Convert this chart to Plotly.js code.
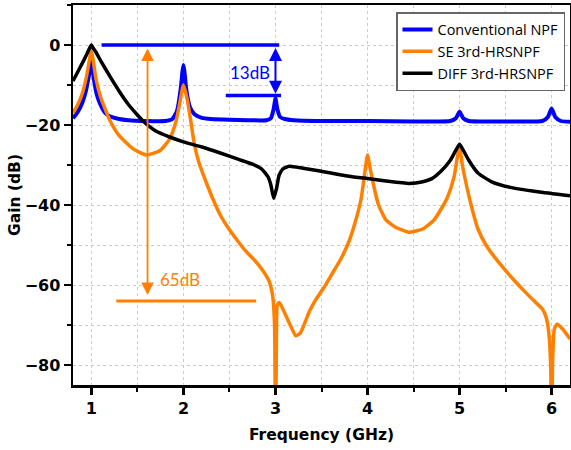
<!DOCTYPE html>
<html>
<head>
<meta charset="utf-8">
<script src="https://cdn.plot.ly/plotly-3.0.1.min.js"></script>
<style>html,body{margin:0;padding:0;background:#fff;}#chart{width:571px;height:450px;}</style>
</head>
<body>
<div id="chart"></div>
<script>
// Conventional NPF
const freqConv = [0.8, 0.85, 0.9, 0.94, 0.97, 0.99, 1.0, 1.01, 1.03, 1.06, 1.1, 1.15, 1.2, 1.3, 1.4, 1.6, 1.8, 1.88, 1.93, 1.97, 1.99, 2.0, 2.01, 2.03, 2.07, 2.12, 2.2, 2.3, 2.5, 2.7, 2.9, 2.95, 2.98, 3.0, 3.02, 3.05, 3.1, 3.2, 3.5, 4.0, 4.5, 4.9, 4.96, 5.0, 5.04, 5.1, 5.5, 5.9, 5.96, 6.0, 6.04, 6.1, 6.2];
const gainConv = [-18.3, -16.8, -14.5, -11.5, -8, -5.5, -4, -5.5, -9, -12.5, -15, -17, -17.8, -18.5, -18.8, -19, -19, -18.5, -16.5, -11, -6.5, -5, -6.5, -11, -15.5, -17.3, -18.2, -18.5, -18.7, -18.8, -18.8, -18.3, -16, -13.4, -16, -18, -18.5, -18.8, -19, -19, -19.1, -19, -18.3, -16.7, -18.3, -19, -19.1, -19, -18, -15.9, -18, -19, -19.2];

// SE 3rd-HRSNPF
const freqSE = [0.8, 0.85, 0.9, 0.95, 0.98, 1.0, 1.02, 1.05, 1.1, 1.2, 1.3, 1.45, 1.6, 1.75, 1.85, 1.92, 1.96, 2.0, 2.04, 2.08, 2.12, 2.17, 2.25, 2.32, 2.4, 2.5, 2.6, 2.68, 2.78, 2.86, 2.93, 2.97, 2.99, 3.0, 3.01, 3.02, 3.04, 3.07, 3.11, 3.16, 3.22, 3.27, 3.37, 3.44, 3.53, 3.62, 3.71, 3.8, 3.87, 3.93, 3.97, 4.0, 4.03, 4.07, 4.12, 4.2, 4.3, 4.45, 4.6, 4.72, 4.8, 4.87, 4.94, 4.98, 5.0, 5.03, 5.07, 5.12, 5.2, 5.3, 5.46, 5.6, 5.72, 5.82, 5.9, 5.94, 5.97, 5.99, 6.0, 6.01, 6.03, 6.06, 6.12, 6.2];
const gainSE = [-17, -15, -12.2, -7.5, -3.5, -1.5, -4, -8.5, -13, -18.8, -22.6, -25.9, -27.5, -26.3, -23.5, -19, -14.5, -10, -13.5, -19, -25, -29.5, -34.5, -38.5, -42.5, -46.2, -49.3, -51.6, -54, -56.3, -59, -62.8, -70, -100, -75, -65, -64.4, -65.5, -67.5, -70, -72.7, -72, -66.5, -63.6, -60.5, -57, -53.5, -49, -44, -38.5, -32, -27.5, -31, -35.5, -40, -43.7, -45.5, -46.8, -46, -43.8, -41, -38, -33, -27.5, -25.5, -30, -34.5, -39.5, -46, -50.5, -55.3, -59, -61.9, -64.2, -66, -68, -72, -80, -100, -80, -71, -69.8, -71, -73.5];

// DIFF 3rd-HRSNPF
const freqDiff = [0.8, 0.85, 0.9, 0.95, 0.98, 1.0, 1.02, 1.05, 1.1, 1.2, 1.3, 1.4, 1.5, 1.56, 1.7, 1.85, 2.0, 2.2, 2.4, 2.6, 2.75, 2.85, 2.92, 2.95, 2.98, 3.01, 3.04, 3.08, 3.15, 3.3, 3.6, 3.8, 4.0, 4.2, 4.45, 4.6, 4.7, 4.8, 4.9, 4.96, 5.0, 5.04, 5.1, 5.2, 5.35, 5.55, 5.85, 6.2];
const gainDiff = [-9, -6.8, -4.6, -2.3, -0.8, 0, -0.8, -1.8, -3.9, -7.8, -11.5, -14.8, -17.5, -19, -21.5, -23, -24.2, -25.5, -27, -28.6, -29.8, -31, -33, -35, -38.3, -36, -32.5, -31, -30.3, -30.8, -32, -32.8, -33.4, -34, -34.6, -34.2, -33.4, -31.5, -28.8, -26.3, -24.8, -26.3, -28.8, -32, -34.2, -35.6, -36.7, -37.7];

const seriesNames = ['Conventional NPF', 'SE 3rd-HRSNPF', 'DIFF 3rd-HRSNPF'];
const xTickVals = [1, 2, 3, 4, 5, 6];
const yTickVals = [-80, -60, -40, -20, 0];

// annotation markers (data coords)
const blueTopLine = {x0: 1.11, x1: 3.04, y: 0};
const blueLowLine = {x0: 2.46, x1: 3.06, y: -12.6};
const blueArrow = {x: 3.0, yTop: -0.4, yBot: -12.2};
const blueLabel = {x: 2.72, y: -6.8, text: '13dB'};
const orangeLine = {x0: 1.27, x1: 2.79, y: -64};
const orangeArrow = {x: 1.61, yTop: -0.5, yBot: -62.5};
const orangeLabel = {x: 1.96, y: -58.6, text: '65dB'};

const BLUE = '#0000ff', ORANGE = '#ff8000', BLACK = '#000000';

const traces = [
  {x: freqConv, y: gainConv, name: seriesNames[0], type: 'scatter', mode: 'lines', line: {color: BLUE, width: 4, shape: 'spline', smoothing: 0.5}},
  {x: freqSE, y: gainSE, name: seriesNames[1], type: 'scatter', mode: 'lines', line: {color: ORANGE, width: 3.5, shape: 'spline', smoothing: 0.5}},
  {x: freqDiff, y: gainDiff, name: seriesNames[2], type: 'scatter', mode: 'lines', line: {color: BLACK, width: 3.5, shape: 'spline', smoothing: 0.5}}
];

const tickFont = {family: 'DejaVu Sans', size: 16, color: '#000', weight: 'bold'};
const axisCommon = {
  showline: true, linecolor: '#000', linewidth: 2.5, mirror: true,
  ticks: 'outside', ticklen: 7, tickwidth: 2.5, tickcolor: '#000',
  tickfont: tickFont, zeroline: false, automargin: false,
  showgrid: true, gridcolor: '#cccccc', gridwidth: 1, griddash: 'dot'
};

const layout = {
  width: 571, height: 450,
  margin: {l: 73, r: 1, t: 5, b: 65},
  paper_bgcolor: '#fff', plot_bgcolor: '#fff',
  showlegend: true,
  legend: {
    x: (565 - 73) / 497, y: (385 - 12) / 380, xanchor: 'right', yanchor: 'top',
    bgcolor: '#fff', bordercolor: '#666', borderwidth: 1.5,
    font: {family: 'Open Sans', size: 14.5, color: '#000'},
    tracegroupgap: 0
  },
  xaxis: Object.assign({}, axisCommon, {
    range: [0.8, 6.2], tickvals: xTickVals,
    minor: {dtick: 0.5, tick0: 0, ticks: 'outside', ticklen: 4, tickwidth: 2, tickcolor: '#000', showgrid: true, gridcolor: '#cccccc', griddash: 'dot'},
    title: {text: 'Frequency (GHz)', font: {family: 'DejaVu Sans', size: 15.5, color: '#000', weight: 'bold'}, standoff: 13}
  }),
  yaxis: Object.assign({}, axisCommon, {
    range: [-85, 10], tickvals: yTickVals,
    minor: {dtick: 10, tick0: 0, ticks: 'outside', ticklen: 4, tickwidth: 2, tickcolor: '#000', showgrid: true, gridcolor: '#cccccc', griddash: 'dot'},
    title: {text: 'Gain (dB)', font: {family: 'DejaVu Sans', size: 15.5, color: '#000', weight: 'bold'}, standoff: 0}
  }),
  shapes: [
    {type: 'line', xref: 'x', yref: 'y', x0: blueTopLine.x0, x1: blueTopLine.x1, y0: blueTopLine.y, y1: blueTopLine.y, line: {color: BLUE, width: 3.5}},
    {type: 'line', xref: 'x', yref: 'y', x0: blueLowLine.x0, x1: blueLowLine.x1, y0: blueLowLine.y, y1: blueLowLine.y, line: {color: BLUE, width: 3.5}},
    {type: 'line', xref: 'x', yref: 'y', x0: orangeLine.x0, x1: orangeLine.x1, y0: orangeLine.y, y1: orangeLine.y, line: {color: ORANGE, width: 3}},
    {type: 'rect', xref: 'paper', yref: 'paper', x0: (397 - 73) / 497, x1: (433 - 73) / 497, y0: (385 - 53) / 380, y1: (385 - 35) / 380, line: {color: '#ff6060', width: 1}, layer: 'above'}
  ],
  annotations: [
    {x: blueArrow.x, y: blueArrow.yBot, ax: blueArrow.x, ay: blueArrow.yTop, xref: 'x', yref: 'y', axref: 'x', ayref: 'y', text: '', showarrow: true, arrowside: 'end+start', arrowhead: 2, startarrowhead: 2, arrowsize: 1.3, startarrowsize: 1.3, arrowwidth: 2, arrowcolor: BLUE},
    {x: blueLabel.x, y: blueLabel.y, xref: 'x', yref: 'y', text: blueLabel.text, showarrow: false, font: {family: 'Lato', size: 17, color: BLUE}},
    {x: orangeArrow.x, y: orangeArrow.yBot, ax: orangeArrow.x, ay: orangeArrow.yTop, xref: 'x', yref: 'y', axref: 'x', ayref: 'y', text: '', showarrow: true, arrowside: 'end+start', arrowhead: 2, startarrowhead: 2, arrowsize: 1.4, startarrowsize: 1.4, arrowwidth: 1.8, arrowcolor: ORANGE},
    {x: orangeLabel.x, y: orangeLabel.y, xref: 'x', yref: 'y', text: orangeLabel.text, showarrow: false, font: {family: 'Lato', size: 17, color: ORANGE}}
  ]
};

Plotly.newPlot('chart', traces, layout, {displayModeBar: false, staticPlot: true});
</script>
</body>
</html>
